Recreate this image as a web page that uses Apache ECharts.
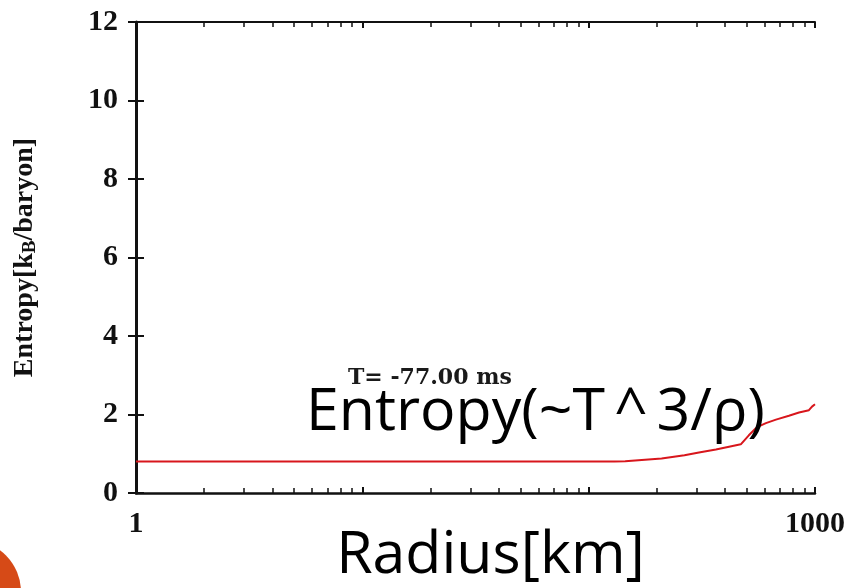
<!DOCTYPE html>
<html>
<head>
<meta charset="utf-8">
<script src="https://cdn.jsdelivr.net/npm/echarts@6/dist/echarts.min.js"></script>
<style>
  html, body { margin: 0; padding: 0; background: #ffffff; }
  #chart { width: 852px; height: 588px; }
</style>
</head>
<body>
<div id="chart"></div>
<script>
// Entropy profile versus radius at a single time slice
const radius  = [1, 130, 145, 210, 265, 307, 365, 417, 470, 510, 555, 607, 672, 767, 850, 940, 970, 1000];
const entropy = [0.8, 0.8, 0.81, 0.88, 0.96, 1.03, 1.11, 1.18, 1.24, 1.47, 1.68, 1.78, 1.87, 1.97, 2.05, 2.11, 2.2, 2.26];

const xLabels = ['1', '1000'];            // only the end decades are labelled
const yTicks = [0, 2, 4, 6, 8, 10, 12];
const timeLabel = 'T= -77.00 ms';
const xTitle = 'Radius[km]';

// minor log ticks (2..9 in every decade) expressed in log10 space
const minorLog = [];
for (let d = 0; d < 3; d++) {
  for (let k = 2; k <= 9; k++) minorLog.push(d + Math.log10(k));
}

const serif = '"Liberation Serif", "DejaVu Serif", serif';
const sans = '"Open Sans", "Noto Sans", sans-serif';
const ink = '#111111';

const chart = echarts.init(document.getElementById('chart'), null, { renderer: 'canvas' });

chart.setOption({
  backgroundColor: '#ffffff',
  animation: false,
  grid: { left: 136, right: 37, top: 22, bottom: 95, containLabel: false, outerBoundsMode: 'none' },
  xAxis: [
    {
      type: 'log', logBase: 10, min: 1, max: 1000, position: 'bottom',
      name: xTitle, nameLocation: 'middle', nameGap: 34, nameMoveOverlap: false,
      nameTextStyle: { fontFamily: sans, fontSize: 59, color: '#000', padding: [0, 0, 0, 30] },
      axisLine: { show: true, lineStyle: { color: ink, width: 2.5 } },
      axisTick: { show: true, inside: true, length: 6, lineStyle: { color: ink, width: 2 } },
      axisLabel: {
        show: true, margin: 16, fontFamily: serif, fontWeight: 'bold', fontSize: 30, color: ink,
        formatter: v => (xLabels.indexOf(String(v)) >= 0 ? String(v) : '')
      },
      splitLine: { show: false }
    },
    {
      type: 'value', min: 0, max: 3, position: 'bottom',
      axisLine: { show: false },
      axisTick: { show: true, inside: true, length: 5, customValues: minorLog, lineStyle: { color: ink, width: 1.5 } },
      axisLabel: { show: false },
      splitLine: { show: false }
    },
    {
      type: 'log', logBase: 10, min: 1, max: 1000, position: 'top',
      axisLine: { show: true, lineStyle: { color: ink, width: 2 } },
      axisTick: { show: true, inside: true, length: 6, lineStyle: { color: ink, width: 2 } },
      axisLabel: { show: false },
      splitLine: { show: false }
    },
    {
      type: 'value', min: 0, max: 3, position: 'top',
      axisLine: { show: false },
      axisTick: { show: true, inside: true, length: 5, customValues: minorLog, lineStyle: { color: ink, width: 1.5 } },
      axisLabel: { show: false },
      splitLine: { show: false }
    }
  ],
  yAxis: [
    {
      type: 'value', min: 0, max: 12, interval: 2, position: 'left',
      name: '{a|Entropy[k}{s|B}{a|/baryon]}',
      nameLocation: 'middle', nameRotate: 90, nameGap: 96, nameMoveOverlap: false,
      nameTextStyle: {
        rich: {
          a: { fontFamily: serif, fontWeight: 'bold', fontSize: 28, color: ink, lineHeight: 30 },
          s: { fontFamily: serif, fontWeight: 'bold', fontSize: 19, color: ink, lineHeight: 30, verticalAlign: 'bottom', padding: [8, 0, 0, 0] }
        }
      },
      axisLine: { show: true, lineStyle: { color: ink, width: 3 } },
      axisTick: { show: true, inside: true, length: 8, lineStyle: { color: ink, width: 2 } },
      axisLabel: {
        show: true, margin: 18, fontFamily: serif, fontWeight: 'bold', fontSize: 30, color: ink,
        customValues: yTicks
      },
      splitLine: { show: false }
    },
    {
      type: 'value', min: 0, max: 12, interval: 2, position: 'right',
      axisLine: { show: true, lineStyle: { color: ink, width: 2 } },
      axisTick: { show: true, inside: true, length: 8, lineStyle: { color: ink, width: 2 } },
      axisLabel: { show: false },
      splitLine: { show: false }
    }
  ],
  series: [
    {
      type: 'line',
      xAxisIndex: 0, yAxisIndex: 0,
      data: radius.map((r, i) => [r, entropy[i]]),
      showSymbol: false,
      lineStyle: { color: '#d8161c', width: 2 },
      z: 3
    }
  ],
  graphic: [
    {
      type: 'text', left: 348, top: 367, z: 10,
      style: { text: timeLabel, font: 'bold 22px "DejaVu Serif", serif', fill: '#1a1a1a' }
    },
    {
      type: 'text', left: 306, top: 384, z: 20,
      style: {
        text: '{a|Entropy(~T}{c|^}{a|3/ρ)}',
        rich: {
          a: { fontFamily: sans, fontSize: 59, color: '#000000' },
          c: { fontFamily: sans, fontSize: 59, color: '#000000', padding: [0, 9, 0, 9] }
        }
      }
    },
    {
      type: 'circle', z: 5,
      shape: { cx: -31, cy: 592, r: 52 },
      style: { fill: '#d64a17' }
    }
  ]
});
</script>
</body>
</html>
